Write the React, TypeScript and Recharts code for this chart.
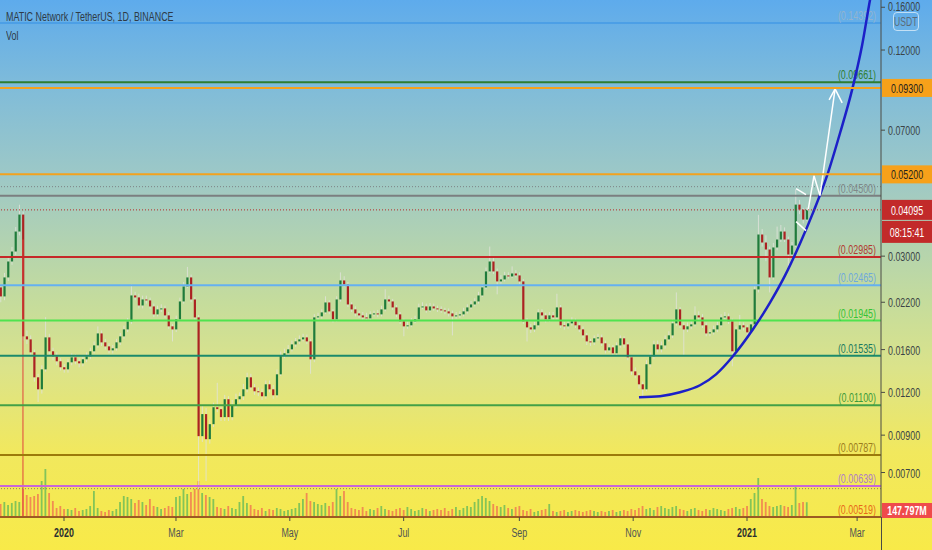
import React from 'react';
import { ComposedChart, Bar, Line, XAxis, YAxis, ReferenceLine } from 'recharts';

const FONT = '"Liberation Sans", Arial, sans-serif';
// the screenshot is squeezed horizontally, so text is drawn narrower than its height
const SQUASH = 0.66;

// one candle every 2 days, days counted from 2020-01-01
const firstDay = -34;
const dayStep = 2;
const firstOpen = 0.02431;

const closes = [
  0.02288, 0.026, 0.02894, 0.03095, 0.0354, 0.03968, 0.01749, 0.01714, 0.01571, 0.01328,
  0.01225, 0.01401, 0.01737, 0.01582, 0.01529, 0.01479, 0.01421, 0.01401, 0.01469, 0.01519,
  0.01479, 0.01459, 0.01499, 0.01529, 0.01582, 0.01646, 0.01784, 0.0168, 0.01635, 0.01592,
  0.01614, 0.0168, 0.01749, 0.01833, 0.01935, 0.02303, 0.02273, 0.02153, 0.02242, 0.02227,
  0.02139, 0.02028, 0.02097, 0.02111, 0.02014, 0.01871, 0.01833, 0.01961, 0.02212, 0.02447,
  0.026, 0.02242, 0.01987, 0.00894, 0.01037, 0.00876, 0.00969, 0.01086, 0.01072, 0.01016,
  0.01146, 0.01016, 0.01101, 0.01146, 0.01169, 0.01225, 0.01328, 0.01241, 0.01209, 0.01201,
  0.01169, 0.01267, 0.01225, 0.01177, 0.01355, 0.0154, 0.01561, 0.01603, 0.01657, 0.01691,
  0.01714, 0.01737, 0.01691, 0.01499, 0.01987, 0.02001, 0.02055, 0.02197, 0.02069, 0.01961,
  0.02242, 0.02548, 0.0248, 0.02168, 0.02097, 0.02041, 0.02014, 0.01987, 0.01974, 0.02028,
  0.02041, 0.02028, 0.02097, 0.02242, 0.02212, 0.02125, 0.02028, 0.01935, 0.01871, 0.01884,
  0.01935, 0.01961, 0.02125, 0.02139, 0.02083, 0.02139, 0.02111, 0.02097, 0.02083, 0.02069,
  0.02041, 0.02001, 0.02014, 0.02028, 0.02069, 0.02125, 0.02168, 0.02212, 0.02303, 0.02431,
  0.02707, 0.02894, 0.02707, 0.02531, 0.02565, 0.02635, 0.02617, 0.0267, 0.02635, 0.02531,
  0.01935, 0.01858, 0.01833, 0.01884, 0.02055, 0.02014, 0.01961, 0.02014, 0.01987, 0.02125,
  0.01884, 0.01871, 0.01909, 0.01935, 0.01884, 0.01833, 0.01761, 0.01691, 0.0168, 0.01726,
  0.01737, 0.01669, 0.01592, 0.01624, 0.01561, 0.01646, 0.01726, 0.01657, 0.01519, 0.01382,
  0.01346, 0.01267, 0.01225, 0.0145, 0.01529, 0.01657, 0.01603, 0.01646, 0.01714, 0.01761,
  0.01909, 0.02097, 0.01884, 0.01833, 0.01871, 0.01896, 0.02014, 0.01987, 0.01884, 0.01784,
  0.01797, 0.01833, 0.01884, 0.01987, 0.02001, 0.01935, 0.01582, 0.01833, 0.01884, 0.01858,
  0.01797, 0.01896, 0.02398, 0.0347, 0.03288, 0.03137, 0.026, 0.0318, 0.03355, 0.0354,
  0.03355, 0.03033, 0.03222, 0.04243, 0.04103, 0.03837, 0.04095,
];

const highs = [
  0.0248, 0.0268, 0.0298, 0.0319, 0.0365, 0.0424, 0.0405, 0.0182, 0.0176, 0.016,
  0.0136, 0.0144, 0.0199, 0.0178, 0.0162, 0.0157, 0.0151, 0.0145, 0.015, 0.0156,
  0.0155, 0.0151, 0.0153, 0.0157, 0.0162, 0.0169, 0.0187, 0.0182, 0.0172, 0.0167,
  0.0165, 0.0172, 0.0179, 0.0188, 0.0198, 0.0248, 0.0236, 0.0233, 0.023, 0.023,
  0.0227, 0.0218, 0.0215, 0.0217, 0.0215, 0.0206, 0.019, 0.0201, 0.0227, 0.0252,
  0.0279, 0.0265, 0.0228, 0.0202, 0.011, 0.0108, 0.01, 0.0112, 0.0128, 0.011,
  0.0118, 0.0117, 0.0114, 0.0119, 0.012, 0.0127, 0.0137, 0.0136, 0.0127, 0.0124,
  0.0123, 0.013, 0.013, 0.0126, 0.014, 0.0158, 0.0161, 0.0165, 0.017, 0.0173,
  0.0176, 0.0178, 0.0177, 0.0172, 0.0203, 0.0205, 0.021, 0.0229, 0.0223, 0.021,
  0.0229, 0.0269, 0.0262, 0.0252, 0.022, 0.0214, 0.0208, 0.0206, 0.0205, 0.0207,
  0.0208, 0.0209, 0.0215, 0.024, 0.023, 0.0225, 0.0216, 0.0206, 0.0197, 0.0193,
  0.0198, 0.0201, 0.0218, 0.022, 0.0218, 0.0219, 0.0218, 0.0215, 0.0214, 0.0212,
  0.0211, 0.0208, 0.0206, 0.0207, 0.0212, 0.0217, 0.0222, 0.0226, 0.0236, 0.0249,
  0.0278, 0.032, 0.0296, 0.0276, 0.0264, 0.027, 0.0269, 0.028, 0.0273, 0.0269,
  0.0257, 0.0198, 0.019, 0.0193, 0.021, 0.021, 0.0205, 0.0206, 0.0206, 0.0233,
  0.0216, 0.0193, 0.0195, 0.0199, 0.0197, 0.0192, 0.0187, 0.0179, 0.0172, 0.0176,
  0.0178, 0.0177, 0.017, 0.0166, 0.0165, 0.0168, 0.0176, 0.0175, 0.0168, 0.0154,
  0.0142, 0.0137, 0.0129, 0.0149, 0.0157, 0.017, 0.017, 0.0169, 0.0176, 0.0181,
  0.0196, 0.0235, 0.0213, 0.0192, 0.0192, 0.0194, 0.0214, 0.0207, 0.0203, 0.0192,
  0.0184, 0.0188, 0.0193, 0.0203, 0.0206, 0.0204, 0.0197, 0.0187, 0.0202, 0.0192,
  0.0189, 0.0194, 0.0245, 0.0396, 0.036, 0.0345, 0.032, 0.0328, 0.0366, 0.037,
  0.0364, 0.0342, 0.033, 0.047, 0.0438, 0.0415, 0.0416,
];

const lows = [
  0.022, 0.0223, 0.0254, 0.0283, 0.0302, 0.0345, 0.017, 0.0166, 0.0153, 0.0129,
  0.01125, 0.0119, 0.0138, 0.0155, 0.0149, 0.0144, 0.0139, 0.0137, 0.0137, 0.0144,
  0.0145, 0.0142, 0.0143, 0.0147, 0.015, 0.0156, 0.0162, 0.0164, 0.016, 0.0156,
  0.0156, 0.0159, 0.0165, 0.0172, 0.018, 0.019, 0.0223, 0.0211, 0.0211, 0.0218,
  0.021, 0.0199, 0.02, 0.0206, 0.0198, 0.0184, 0.0169, 0.018, 0.0194, 0.0218,
  0.0242, 0.022, 0.0195, 0.00626, 0.0086, 0.00661, 0.0085, 0.0095, 0.0105, 0.0099,
  0.0099, 0.0099, 0.00995, 0.0108, 0.0112, 0.0114, 0.012, 0.0122, 0.0118, 0.0117,
  0.0114, 0.0115, 0.012, 0.0115, 0.0116, 0.0134, 0.0151, 0.0153, 0.0158, 0.0163,
  0.0166, 0.0169, 0.0166, 0.0136, 0.0147, 0.0195, 0.0197, 0.0203, 0.0203, 0.0192,
  0.0193, 0.0221, 0.0244, 0.0213, 0.0206, 0.02, 0.0198, 0.0195, 0.0194, 0.0194,
  0.02, 0.0199, 0.02, 0.0207, 0.0218, 0.0209, 0.0199, 0.019, 0.0175, 0.0184,
  0.0186, 0.0191, 0.0194, 0.021, 0.0205, 0.0206, 0.0208, 0.0206, 0.0205, 0.0203,
  0.02, 0.0176, 0.0197, 0.0198, 0.02, 0.0204, 0.021, 0.0214, 0.0218, 0.0228,
  0.024, 0.0268, 0.0266, 0.0232, 0.0249, 0.0253, 0.0258, 0.0259, 0.026, 0.0249,
  0.019, 0.0169, 0.0179, 0.018, 0.0186, 0.0198, 0.0192, 0.0193, 0.0195, 0.0196,
  0.0185, 0.0183, 0.0184, 0.0188, 0.0185, 0.018, 0.0173, 0.0165, 0.0164, 0.0165,
  0.017, 0.0164, 0.0156, 0.0157, 0.0153, 0.0154, 0.0162, 0.0162, 0.0149, 0.0135,
  0.0132, 0.0123, 0.01165, 0.0121, 0.0142, 0.015, 0.0157, 0.0157, 0.0161, 0.0169,
  0.0173, 0.0188, 0.0185, 0.0154, 0.018, 0.0184, 0.0187, 0.0195, 0.0185, 0.0175,
  0.0175, 0.0177, 0.018, 0.0186, 0.0196, 0.019, 0.0143, 0.0155, 0.0181, 0.0182,
  0.0176, 0.0177, 0.0186, 0.0235, 0.032, 0.029, 0.0235, 0.0256, 0.0312, 0.033,
  0.033, 0.028, 0.0299, 0.0319, 0.0398, 0.0374, 0.038,
];

// volume in millions of USDT
const volumesM = [
  130, 150, 120, 140, 160, 150, 280, 220, 200, 210,
  230, 360, 480, 240, 160, 90, 110, 80, 80, 70,
  90, 60, 70, 80, 110, 260, 90, 60, 50, 70,
  60, 80, 150, 210, 200, 180, 140, 170, 150, 120,
  180, 110, 100, 80, 90, 110, 100, 200, 210, 280,
  230, 250, 280, 360, 240, 220, 200, 180, 100, 90,
  80, 110, 90, 80, 150, 210, 140, 120, 80, 70,
  90, 60, 80, 70, 90, 80, 60, 70, 80, 90,
  140, 180, 240, 160, 150, 130, 120, 140, 110, 150,
  280, 210, 260, 150, 90, 80, 70, 100, 60, 80,
  70, 90, 110, 80, 70, 60, 80, 90, 70, 100,
  80, 60, 70, 90, 80, 60, 70, 80, 70, 90,
  60, 80, 100, 70, 90, 110, 100, 150, 180, 210,
  190, 160, 130, 110, 100, 120, 90, 80, 100, 110,
  70, 60, 80, 50, 60, 70, 80, 130, 60, 50,
  60, 70, 50, 60, 70, 60, 50, 60, 70, 60,
  50, 60, 50, 60, 70, 50, 60, 70, 60, 80,
  70, 90, 110, 80, 90, 70, 100, 110, 90, 80,
  100, 110, 80, 70, 60, 80, 90, 70, 60, 80,
  70, 90, 80, 70, 60, 80, 90, 100, 80, 90,
  110, 180, 240, 390, 180, 150, 110, 100, 110, 120,
  110, 100, 120, 310, 140, 150, 147.797,
];

const monthTickDays = [0, 60, 121, 182, 244, 305, 366, 425];
const monthTickLabels = ['2020', 'Mar', 'May', 'Jul', 'Sep', 'Nov', '2021', 'Mar'];
const priceTicks = [0.007, 0.009, 0.012, 0.016, 0.022, 0.03, 0.07, 0.12, 0.16];

// horizontal levels with their bracketed labels
const levels = [0.14392, 0.09661, 0.045, 0.02985, 0.02465, 0.01945, 0.01535, 0.011, 0.00787, 0.00639, 0.00519];
const levelLineColors = ['#4c9fe6', '#2e7d32', '#7b7f80', '#c62828', '#64b0f0', '#4fe34f', '#1b8a6b', '#43a047', '#9c7a0a', '#c867d8', '#ef6c00'];
const levelTextColors = ['#92b4cf', '#2e7d32', '#7f8888', '#b23a32', '#6fa9dc', '#35c435', '#1a7a60', '#3a9a3a', '#9c7d1e', '#b07ec6', '#e8691a'];

const targets = [0.093, 0.052];
const lastPrice = 0.04095;
const countdown = '08:15:41';
const recentHigh = 0.04787;
const volumeMark = 0.00628;
const lastVolumeText = '147.797M';

// long red wick of the December 2019 drop
const wickDay = -22;
const wickTop = 0.03355;
const wickBottom = 0.00519;

// hand drawn parabola
const curveDays = [308.1, 319.4, 330.1, 340.8, 349.4, 358.0, 369.2, 378.4, 386.4, 394.4, 401.4, 408.9, 415.9, 422.3, 427.7, 431.9, 436.2];
const curvePrices = [0.01162, 0.0117, 0.01201, 0.01259, 0.01355, 0.0152, 0.01834, 0.02198, 0.02635, 0.03266, 0.04021, 0.05154, 0.06879, 0.0918, 0.12416, 0.16794, 0.21965];

// white projection arrow and flag
const arrowDays = [398.7, 401.9, 405.1, 413.2];
const arrowPrices = [0.04075, 0.05154, 0.04507, 0.09242];
const headDays = [410.0, 413.2, 417.0];
const headPrices = [0.08584, 0.09242, 0.08413];
const flagTopDays = [392.3, 397.6];
const flagTopPrices = [0.04723, 0.04537];
const flagBottomDays = [392.3, 397.6];
const flagBottomPrices = [0.03785, 0.03563];

const candles = closes.map((c, i) => {
  const o = i === 0 ? firstOpen : closes[i - 1];
  return { d: firstDay + i * dayStep, o, c, h: highs[i], l: lows[i], range: [lows[i], highs[i]], vol: volumesM[i] };
});

const toPoints = (days: number[], prices: number[]) => days.map((d, i) => ({ d, p: prices[i] }));

const DOMAIN_X: [number, number] = [-34.3, 437.8];
const AXIS = '#4a4b45';
const UP = '#1f7b3b';
const DOWN = '#ab2222';

function SText({ x, y, anchor = 'start', fill, size = 13.5, weight = 400, children }: any) {
  return (
    <text
      transform={`translate(${x},${y}) scale(${SQUASH},1)`}
      textAnchor={anchor}
      fill={fill}
      fontSize={size}
      fontWeight={weight}
      fontFamily={FONT}
    >
      {children}
    </text>
  );
}

function CandleShape(props: any) {
  const { x, width, payload } = props;
  let { y, height } = props;
  if (!payload || !isFinite(y) || !isFinite(height)) return null;
  if (height < 0) {
    y += height;
    height = -height;
  }
  const { o, c, h, l } = payload;
  const span = Math.log(h) - Math.log(l);
  const yAt = (v: number) => y + (height * (Math.log(h) - Math.log(v))) / span;
  const yo = yAt(o);
  const yc = yAt(c);
  const top = Math.min(yo, yc);
  const cx = x + width / 2;
  return (
    <g>
      <line x1={cx} x2={cx} y1={y} y2={y + height} stroke="rgba(225,226,220,0.8)" strokeWidth={1} />
      <rect x={x} y={top} width={width} height={Math.max(1, Math.abs(yc - yo))} fill={c >= o ? UP : DOWN} />
    </g>
  );
}

function VolumeShape(props: any) {
  const { x, y, width, height, payload } = props;
  if (!payload || !isFinite(y)) return null;
  const up = payload.c >= payload.o;
  return <rect x={x} y={y} width={width} height={Math.max(0, height)} fill={up ? 'rgba(38,166,91,0.55)' : 'rgba(239,83,80,0.62)'} />;
}

function PriceTick({ x, y, payload }: any) {
  // the top label sits at the pane edge, just above the currency button
  const shift = payload.value >= 0.15 ? 3.5 : 5;
  return <SText x={x} y={y + shift} fill="#3b4346">{Number(payload.value).toFixed(5)}</SText>;
}

function MonthTick({ x, y, payload }: any) {
  const label = monthTickLabels[monthTickDays.indexOf(payload.value)] ?? '';
  const isYear = /^\d+$/.test(label);
  return (
    <SText x={x} y={y + 14} anchor="middle" fill={isYear ? '#2b2f30' : '#4f5553'} weight={isYear ? 600 : 400}>
      {label}
    </SText>
  );
}

function LevelText({ viewBox, text, color }: any) {
  if (!viewBox) return null;
  return <SText x={viewBox.x + viewBox.width - 5} y={viewBox.y - 3} anchor="end" fill={color}>{text}</SText>;
}

function AxisBox({ viewBox, text, fill, color, dy = 0, h = 18 }: any) {
  if (!viewBox) return null;
  const x = viewBox.x + viewBox.width + 1;
  const y = viewBox.y + dy;
  return (
    <g>
      <rect x={x} y={y - h / 2} width={50} height={h} fill={fill} />
      <SText x={x + 25} y={y + 5} anchor="middle" fill={color}>{text}</SText>
    </g>
  );
}

function LastPriceBoxes({ viewBox }: any) {
  if (!viewBox) return null;
  return (
    <g>
      <AxisBox viewBox={viewBox} text={lastPrice.toFixed(5)} fill="#c22a2a" color="#ffffff" h={20} />
      <AxisBox viewBox={viewBox} text={countdown} fill="#c22a2a" color="#ffffff" dy={22} h={22} />
    </g>
  );
}

function VolumeBox({ viewBox }: any) {
  if (!viewBox) return null;
  const x = viewBox.x + viewBox.width + 1;
  const y = viewBox.y;
  return (
    <g>
      <rect x={x} y={y - 14} width={50} height={15} fill="#ef4b4b" />
      <SText x={x + 25} y={y - 2} anchor="middle" fill="#ffffff" weight={600}>{lastVolumeText}</SText>
    </g>
  );
}

export default function App() {
  return (
    <div
      style={{
        position: 'fixed',
        left: 0,
        top: 0,
        width: 932,
        height: 550,
        overflow: 'hidden',
        background:
          'linear-gradient(180deg, #5eabec 0%, #80bcd9 16%, #9fc9c5 33%, #c5dc9c 55%, #dbe38a 67%, #f1e85e 82%, #f8ea48 100%)',
      }}
    >
      <ComposedChart width={932} height={550} data={candles} margin={{ top: 0, right: 0, bottom: 0, left: 0 }}>
        <XAxis
          dataKey="d"
          type="number"
          domain={DOMAIN_X}
          allowDataOverflow
          ticks={monthTickDays}
          interval={0}
          height={33}
          axisLine={{ stroke: AXIS }}
          tickLine={{ stroke: AXIS }}
          tickSize={4}
          tick={<MonthTick />}
        />
        <XAxis xAxisId="v" dataKey="d" type="number" domain={DOMAIN_X} allowDataOverflow hide />
        <XAxis xAxisId="draw" dataKey="d" type="number" domain={DOMAIN_X} allowDataOverflow hide />
        <YAxis
          orientation="right"
          scale="log"
          domain={[0.00519, 0.168]}
          allowDataOverflow
          ticks={priceTicks}
          interval={0}
          width={51}
          axisLine={{ stroke: AXIS }}
          tickLine={{ stroke: AXIS }}
          tickSize={4}
          tickMargin={3}
          tick={<PriceTick />}
        />
        <YAxis yAxisId="vol" hide domain={[0, 5170]} allowDataOverflow />

        <Bar xAxisId="v" yAxisId="vol" dataKey="vol" barSize={1.8} shape={VolumeShape} isAnimationActive={false} />

        <ReferenceLine
          segment={[{ x: wickDay, y: wickTop }, { x: wickDay, y: wickBottom }]}
          stroke="#e0453c"
          strokeWidth={1}
          ifOverflow="visible"
        />

        <Bar dataKey="range" barSize={2.2} shape={CandleShape} isAnimationActive={false} />

        {levels.map((v, i) => (
          <ReferenceLine
            key={v}
            y={v}
            stroke={levelLineColors[i]}
            strokeWidth={2}
            label={<LevelText text={`(${v.toFixed(5)})`} color={levelTextColors[i]} />}
          />
        ))}
        <ReferenceLine y={recentHigh} stroke="#7d8384" strokeDasharray="1 2" strokeWidth={1} />
        <ReferenceLine y={volumeMark} stroke="#8f8256" strokeDasharray="1 2" strokeWidth={1} />

        <Line
          xAxisId="draw"
          data={toPoints(curveDays, curvePrices)}
          dataKey="p"
          type="monotone"
          stroke="#1c20c8"
          strokeWidth={2.5}
          dot={false}
          activeDot={false}
          isAnimationActive={false}
        />
        <Line xAxisId="draw" data={toPoints(arrowDays, arrowPrices)} dataKey="p" type="linear" stroke="#ffffff" strokeWidth={1.5} dot={false} activeDot={false} isAnimationActive={false} />
        <Line xAxisId="draw" data={toPoints(headDays, headPrices)} dataKey="p" type="linear" stroke="#ffffff" strokeWidth={1.5} dot={false} activeDot={false} isAnimationActive={false} />
        <Line xAxisId="draw" data={toPoints(flagTopDays, flagTopPrices)} dataKey="p" type="linear" stroke="#ffffff" strokeWidth={1.5} dot={false} activeDot={false} isAnimationActive={false} />
        <Line xAxisId="draw" data={toPoints(flagBottomDays, flagBottomPrices)} dataKey="p" type="linear" stroke="#ffffff" strokeWidth={1.5} dot={false} activeDot={false} isAnimationActive={false} />

        {targets.map((v) => (
          <ReferenceLine
            key={v}
            y={v}
            stroke="#f3a21d"
            strokeWidth={2}
            label={<AxisBox text={v.toFixed(5)} fill="#f7a11a" color="#1f1f1f" />}
          />
        ))}
        <ReferenceLine y={lastPrice} stroke="#b52a2a" strokeDasharray="1 2" strokeWidth={1} label={<LastPriceBoxes />} />
        <ReferenceLine yAxisId="vol" xAxisId="v" y={0} stroke="none" label={<VolumeBox />} />
      </ComposedChart>

      <div
        style={{
          position: 'absolute',
          left: 881,
          top: 517,
          width: 1,
          height: 33,
          background: AXIS,
        }}
      />
      <div
        style={{
          position: 'absolute',
          left: 6,
          top: 9,
          fontFamily: FONT,
          fontSize: 13.5,
          lineHeight: '16px',
          color: '#2e3a46',
          whiteSpace: 'nowrap',
          transform: `scaleX(${SQUASH})`,
          transformOrigin: '0 0',
        }}
      >
        MATIC Network / TetherUS, 1D, BINANCE
        <div style={{ marginTop: 3 }}>Vol</div>
      </div>
      <div
        style={{
          position: 'absolute',
          left: 893,
          top: 12,
          width: 26,
          height: 19,
          boxSizing: 'border-box',
          border: '1px solid rgba(255,255,255,0.6)',
          borderRadius: 4,
          display: 'flex',
          alignItems: 'center',
          justifyContent: 'center',
          overflow: 'hidden',
        }}
      >
        <span
          style={{
            fontFamily: FONT,
            fontSize: 13,
            color: '#5b6b78',
            transform: `scaleX(${SQUASH})`,
            display: 'inline-block',
          }}
        >
          USDT
        </span>
      </div>
    </div>
  );
}
